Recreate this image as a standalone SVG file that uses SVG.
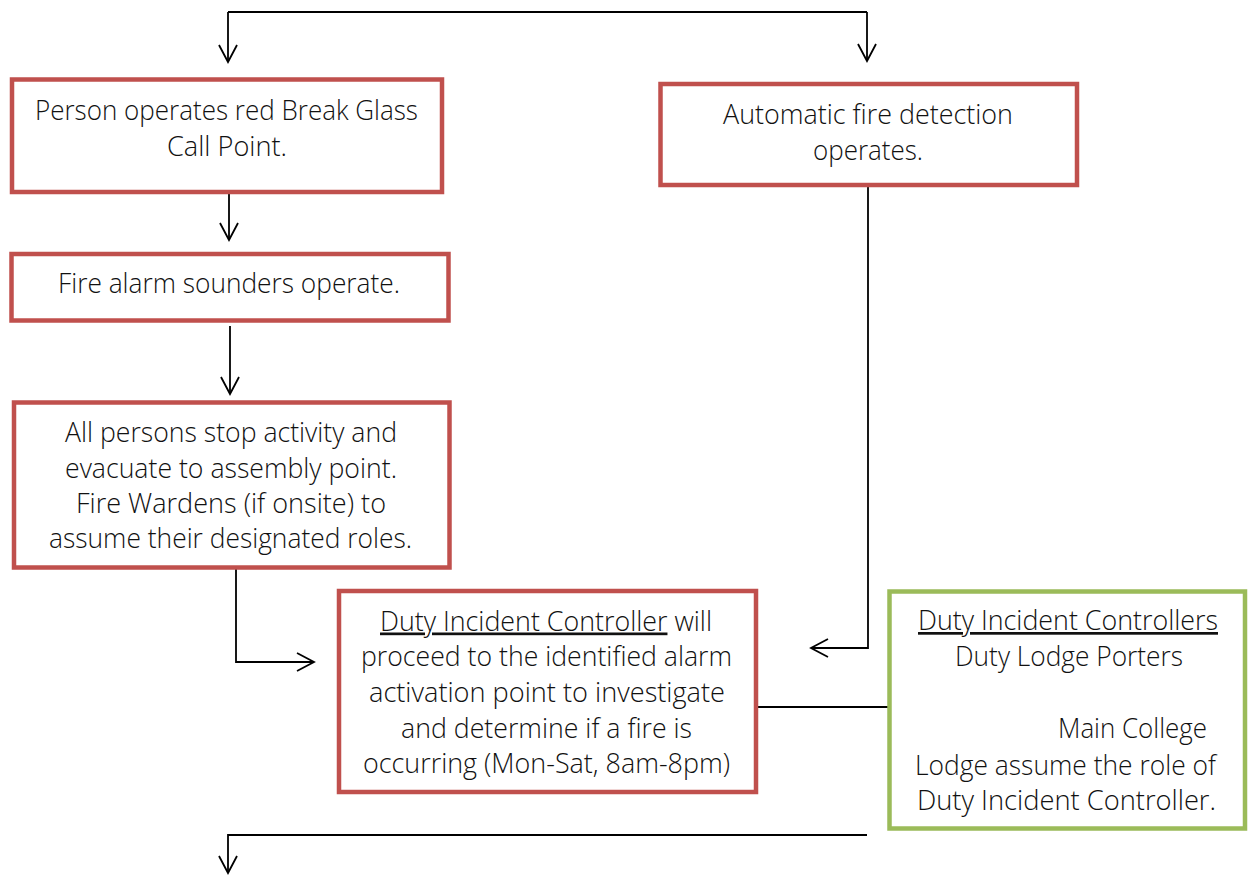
<svg xmlns="http://www.w3.org/2000/svg" width="1252" height="875" viewBox="0 0 1252 875">
<style>
.red{fill:#fff;stroke:#C0504D;stroke-width:4.5}
.green{fill:#fff;stroke:#9BBB59;stroke-width:4.5}
.t{font-family:"Open Sans","Liberation Sans",sans-serif;font-weight:300;font-size:27px;fill:#111}
.c{fill:none;stroke:#000;stroke-width:1.8}
.u{text-decoration:underline}
</style>
<defs>
<marker id="ah" viewBox="-20 -11 22 22" refX="0" refY="0" markerWidth="22" markerHeight="22" markerUnits="userSpaceOnUse" orient="auto">
<path d="M-17 -9 L0 0 L-17 9" fill="none" stroke="#000" stroke-width="1.8"/>
</marker>
</defs>
<rect width="1252" height="875" fill="#fff"/>
<g id="connectors">
<path class="c" d="M228 12 H867"/>
<path class="c" d="M228 12 V62" marker-end="url(#ah)"/>
<path class="c" d="M867 12 V61" marker-end="url(#ah)"/>
<path class="c" d="M229 194 V240" marker-end="url(#ah)"/>
<path class="c" d="M230 326 V394" marker-end="url(#ah)"/>
<path class="c" d="M236 569 V662 H314" marker-end="url(#ah)"/>
<path class="c" d="M868 186 V648 H811" marker-end="url(#ah)"/>
<path class="c" d="M756 707 H889"/>
<path class="c" d="M867 835 H228 V873" marker-end="url(#ah)"/>
</g>
<g id="node-break-glass">
<rect class="red" x="12" y="79.5" width="430" height="112.5"/>
<text class="t" x="35" y="119.5" textLength="383" lengthAdjust="spacingAndGlyphs">Person operates red Break Glass</text>
<text class="t" x="167" y="155.5" textLength="120" lengthAdjust="spacingAndGlyphs">Call Point.</text>
</g>
<g id="node-auto-detection">
<rect class="red" x="660.5" y="84" width="416.5" height="101"/>
<text class="t" x="723" y="123.5" textLength="290" lengthAdjust="spacingAndGlyphs">Automatic fire detection</text>
<text class="t" x="813" y="159.5" textLength="110" lengthAdjust="spacingAndGlyphs">operates.</text>
</g>
<g id="node-sounders">
<rect class="red" x="11.5" y="254" width="437" height="66.5"/>
<text class="t" x="58" y="293" textLength="342" lengthAdjust="spacingAndGlyphs">Fire alarm sounders operate.</text>
</g>
<g id="node-evacuate">
<rect class="red" x="14" y="402.5" width="435.5" height="165"/>
<text class="t" x="65" y="441.5" textLength="332" lengthAdjust="spacingAndGlyphs">All persons stop activity and</text>
<text class="t" x="65" y="477.5" textLength="332" lengthAdjust="spacingAndGlyphs">evacuate to assembly point.</text>
<text class="t" x="76" y="513" textLength="310" lengthAdjust="spacingAndGlyphs">Fire Wardens (if onsite) to</text>
<text class="t" x="49" y="548" textLength="363" lengthAdjust="spacingAndGlyphs">assume their designated roles.</text>
</g>
<g id="node-duty-controller">
<rect class="red" x="339" y="591" width="417" height="201"/>
<text class="t" x="380" y="630.5" textLength="332" lengthAdjust="spacingAndGlyphs"><tspan class="u">Duty Incident Controller</tspan> will</text>
<text class="t" x="361" y="666" textLength="371" lengthAdjust="spacingAndGlyphs">proceed to the identified alarm</text>
<text class="t" x="369" y="702" textLength="356" lengthAdjust="spacingAndGlyphs">activation point to investigate</text>
<text class="t" x="401" y="738" textLength="291" lengthAdjust="spacingAndGlyphs">and determine if a fire is</text>
<text class="t" x="363" y="773" textLength="367" lengthAdjust="spacingAndGlyphs">occurring (Mon-Sat, 8am-8pm)</text>
</g>
<g id="node-lodge-porters">
<rect class="green" x="889.5" y="591.5" width="355.5" height="237"/>
<text class="t u" x="918" y="630" textLength="300" lengthAdjust="spacingAndGlyphs">Duty Incident Controllers</text>
<text class="t" x="955" y="666" textLength="228" lengthAdjust="spacingAndGlyphs">Duty Lodge Porters</text>
<text class="t" x="1058" y="738" textLength="149" lengthAdjust="spacingAndGlyphs">Main College</text>
<text class="t" x="915" y="775" textLength="301" lengthAdjust="spacingAndGlyphs">Lodge assume the role of</text>
<text class="t" x="917" y="810" textLength="299" lengthAdjust="spacingAndGlyphs">Duty Incident Controller.</text>
</g>
</svg>
